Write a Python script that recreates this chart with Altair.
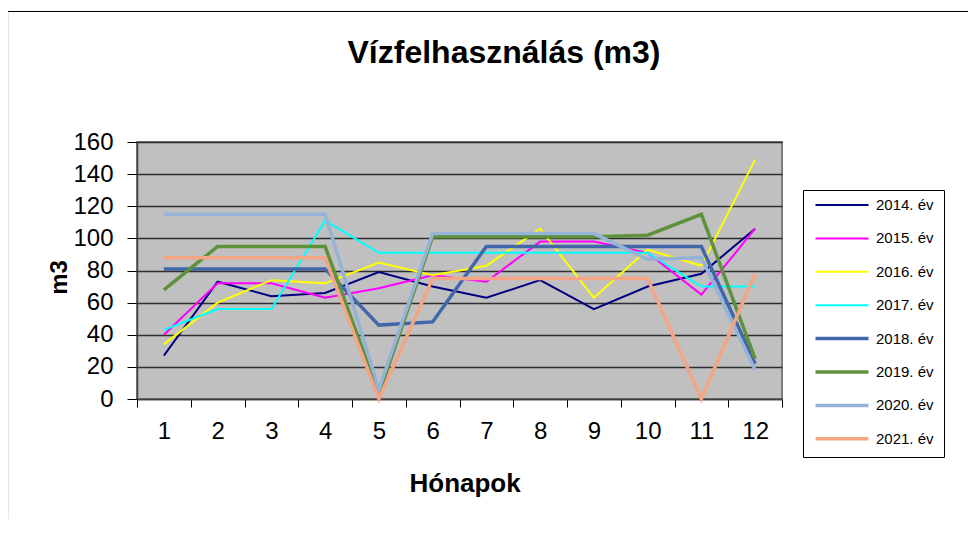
import altair as alt
import pandas as pd

months = list(range(1, 13))
years = ["2014. év", "2015. év", "2016. év", "2017. év",
         "2018. év", "2019. év", "2020. év", "2021. év"]
v2014 = [27, 73, 64, 66, 79, 70, 63, 74, 56, 70, 78, 106]
v2015 = [40, 72, 72, 63, 69, 77, 73, 98, 98, 91, 65, 106]
v2016 = [34, 60, 74, 72, 85, 77, 83, 106, 63, 93, 83, 149]
v2017 = [43, 56, 56, 111, 91, 91, 91, 91, 91, 91, 70, 70]
v2018 = [81, 81, 81, 81, 46, 48, 95, 95, 95, 95, 95, 22]
v2019 = [68, 95, 95, 95, 3, 101, 101, 101, 101, 102, 115, 25]
v2020 = [115, 115, 115, 115, 6, 103, 103, 103, 103, 87, 88, 18]
v2021 = [88, 88, 88, 88, 0, 75, 75, 75, 75, 75, 0, 78]
series = [v2014, v2015, v2016, v2017, v2018, v2019, v2020, v2021]

colors = ["#000080", "#FF00FF", "#FFFF00", "#00FFFF",
          "#4167AA", "#5E913C", "#95B3D7", "#F3A584"]
widths = [2, 2, 2, 2, 3.5, 3.5, 3.5, 3.5]

rows = []
for yi, (y, vals) in enumerate(zip(years, series)):
    for m, v in zip(months, vals):
        rows.append({"honap": m, "ev": y, "m3": v, "ord": yi, "w": widths[yi]})
df = pd.DataFrame(rows)

FONT = "Liberation Sans"
TITLE = "Vízfelhasználás (m3)"

lines = alt.Chart(df).mark_line().encode(
    x=alt.X("honap:O", bandPosition=0.5,
            scale=alt.Scale(type="band", paddingInner=0, paddingOuter=0),
            axis=alt.Axis(title="Hónapok", labelAngle=0, tickBand="extent",
                          grid=False, tickSize=8, tickColor="#000000",
                          domainColor="#404040", domainWidth=1.5,
                          labelFontSize=24, labelFont=FONT, labelColor="#000000",
                          labelPadding=12,
                          titleFontSize=26, titleFont=FONT, titleFontWeight="bold",
                          titleColor="#000000", titleX=327.6, titleY=92,
                          titleBaseline="alphabetic", titleAnchor="middle")),
    y=alt.Y("m3:Q", scale=alt.Scale(domain=[0, 160], nice=False),
            axis=alt.Axis(title="m3", values=list(range(0, 161, 20)),
                          grid=True, gridColor="#2E2E2E", gridWidth=1.5,
                          tickSize=10, tickColor="#000000",
                          domainColor="#404040", domainWidth=1.5,
                          labelFontSize=24, labelFont=FONT, labelColor="#000000",
                          labelPadding=14,
                          titleFontSize=24, titleFont=FONT, titleFontWeight="bold",
                          titleColor="#000000", titleX=-78, titleY=135,
                          titleBaseline="middle", titleAngle=270)),
    color=alt.Color("ev:N", scale=alt.Scale(domain=years, range=colors),
                    legend=alt.Legend(
                        title=None, orient="none", legendX=666, legendY=48,
                        strokeColor="#000000", fillColor="#FFFFFF", padding=10,
                        symbolType="stroke", symbolSize=2809, clipHeight=10,
                        symbolOffset=21.5, rowPadding=18.4,
                        symbolStrokeWidth=alt.ExprRef(
                            expr="datum.value >= '2018' ? 3.5 : 2"),
                        labelFontSize=15, labelFont=FONT, labelColor="#000000",
                        labelOffset=26.5)),
    strokeWidth=alt.StrokeWidth("w:Q", scale=None, legend=None),
    order=alt.Order("ord:Q"),
)

frame_df = pd.DataFrame({"a": [0]})
top_line = alt.Chart(frame_df).mark_rule(color="#000000", strokeWidth=1.2).encode(
    x=alt.value(-129.5), x2=alt.value(831), y=alt.value(-130.5))
left_line = alt.Chart(frame_df).mark_rule(color="#000000", strokeWidth=1.2).encode(
    x=alt.value(-129.5), y=alt.value(-130.5), y2=alt.value(377))
title_txt = alt.Chart(frame_df).mark_text(
    text=TITLE, font=FONT, fontSize=32, fontWeight="bold", color="#000000",
    align="center", baseline="alphabetic").encode(
    x=alt.value(367), y=alt.value(-79))

chart = alt.layer(lines, top_line, left_line, title_txt).properties(
    width=645, height=257,
    autosize=alt.AutoSizeParams(type="none"),
    padding={"left": 129, "top": 134, "right": 186, "bottom": 120},
    background="#FFFFFF",
).configure_view(
    fill="#C0C0C0", stroke="#808080", strokeWidth=2
)

chart.save("out.html", embed_options={"renderer": "svg", "actions": False})
